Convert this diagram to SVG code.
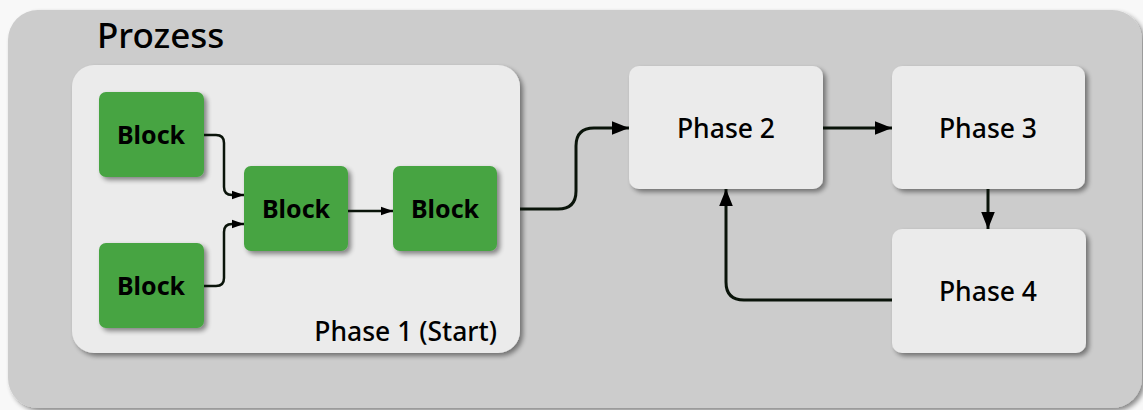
<svg xmlns="http://www.w3.org/2000/svg" width="1143" height="410" viewBox="0 0 1143 410">
<defs>
<filter id="sh" x="-20%" y="-20%" width="150%" height="150%">
<feGaussianBlur in="SourceAlpha" stdDeviation="2.5"/>
<feOffset dx="3" dy="3" result="b"/>
<feComponentTransfer><feFuncA type="linear" slope="0.45"/></feComponentTransfer>
<feMerge><feMergeNode/><feMergeNode in="SourceGraphic"/></feMerge>
</filter>
<marker id="ahl" viewBox="0 0 10 10" refX="10" refY="5" markerWidth="17" markerHeight="17" markerUnits="userSpaceOnUse" orient="auto">
<path d="M0,1 L10,5 L0,9 z" fill="#000"/>
</marker>
<marker id="ahs" viewBox="0 0 10 10" refX="10" refY="5" markerWidth="12" markerHeight="12" markerUnits="userSpaceOnUse" orient="auto">
<path d="M0,1.5 L10,5 L0,8.5 z" fill="#000"/>
</marker>
</defs>
<style>
.blk{fill:#47a442;}
.ph{fill:#ebebeb;}
.t{font-family:"Noto Sans","Open Sans",sans-serif;fill:#000;}
.bt{font-size:25px;font-weight:700;text-anchor:middle;}
.pt{font-size:26.5px;font-weight:500;text-anchor:middle;}
.c{fill:none;stroke:#0a140a;stroke-width:3;}
.cs{fill:none;stroke:#0a140a;stroke-width:2.5;}
</style>
<rect width="1143" height="410" fill="#f8f8f8"/>
<g id="prozess">
<rect x="8" y="10" width="1134" height="398" rx="30" fill="#cccccc" filter="url(#sh)"/>
<text class="t" x="97" y="48" font-size="35" font-weight="500">Prozess</text>
</g>
<g id="phase1">
<rect x="72" y="65" width="448" height="288" rx="22" class="ph" filter="url(#sh)"/>
<text class="t" x="497" y="341" font-size="26.5" font-weight="500" text-anchor="end">Phase 1 (Start)</text>
</g>
<g id="block1"><rect x="99" y="92" width="105" height="85" rx="7" class="blk" filter="url(#sh)"/><text class="t bt" x="151" y="144">Block</text></g>
<g id="block2"><rect x="99" y="243" width="105" height="85" rx="7" class="blk" filter="url(#sh)"/><text class="t bt" x="151" y="295">Block</text></g>
<g id="block3"><rect x="244" y="166" width="104" height="85" rx="7" class="blk" filter="url(#sh)"/><text class="t bt" x="296" y="218">Block</text></g>
<g id="block4"><rect x="393" y="166" width="104" height="85" rx="7" class="blk" filter="url(#sh)"/><text class="t bt" x="445" y="218">Block</text></g>
<g id="phase2"><rect x="629" y="66" width="194" height="123" rx="10" class="ph" filter="url(#sh)"/><text class="t pt" x="726" y="138">Phase 2</text></g>
<g id="phase3"><rect x="892" y="66" width="193" height="123" rx="10" class="ph" filter="url(#sh)"/><text class="t pt" x="988" y="138">Phase 3</text></g>
<g id="phase4"><rect x="892" y="229" width="194" height="124" rx="10" class="ph" filter="url(#sh)"/><text class="t pt" x="988" y="301">Phase 4</text></g>
<g id="connectors">
<path class="cs" d="M204,135 H216 Q224,135 224,143 V187 Q224,195 232,195 H244" marker-end="url(#ahs)"/>
<path class="cs" d="M204,286 H216 Q224,286 224,278 V232 Q224,224 232,224 H244" marker-end="url(#ahs)"/>
<path class="cs" d="M348,211 H393" marker-end="url(#ahs)"/>
<path class="c" d="M520,209 H558 Q576,209 576,191 V146 Q576,128 594,128 H629" marker-end="url(#ahl)"/>
<path class="c" d="M823,128 H892" marker-end="url(#ahl)"/>
<path class="c" d="M988,189 V229" marker-end="url(#ahl)"/>
<path class="c" d="M892,300 H744 Q726,300 726,282 V189" marker-end="url(#ahl)"/>
</g>
</svg>
